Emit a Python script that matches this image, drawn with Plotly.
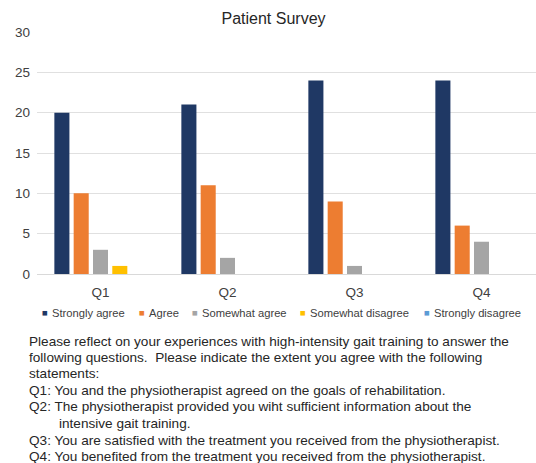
import plotly.graph_objects as go

categories = ["Q1", "Q2", "Q3", "Q4"]
series_names = ["Strongly agree", "Agree", "Somewhat agree", "Somewhat disagree", "Strongly disagree"]
strongly_agree = [20, 21, 24, 24]
agree = [10, 11, 9, 6]
somewhat_agree = [3, 2, 1, 4]
somewhat_disagree = [1, 0, 0, 0]
strongly_disagree = [0, 0, 0, 0]
series_values = [strongly_agree, agree, somewhat_agree, somewhat_disagree, strongly_disagree]
colors = ["#1f3864", "#ed7d31", "#a5a5a5", "#ffc000", "#5b9bd5"]
y_ticks = [0, 5, 10, 15, 20, 25, 30]

paragraph = [
    "Please reflect on your experiences with high-intensity gait training to answer the",
    "following questions.\u00a0 Please indicate the extent you agree with the following",
    "statements:",
    "Q1: You and the physiotherapist agreed on the goals of rehabilitation.",
    "Q2: The physiotherapist provided you wiht sufficient information about the",
    "intensive gait training.",
    "Q3: You are satisfied with the treatment you received from the physiotherapist.",
    "Q4: You benefited from the treatment you received from the physiotherapist.",
]

W, H = 536, 463
L, R, T, B = 37, 0, 32, 189
plot_h = H - T - B
plot_w = W - L - R
FONT = "Liberation Sans, Arial, sans-serif"

fig = go.Figure()
for name, vals, c in zip(series_names, series_values, colors):
    fig.add_trace(go.Bar(name=name, x=categories, y=vals, marker_color=c,
                         marker_line_width=0, showlegend=False))

def px_to_paper_y(p):
    return (H - B - p) / plot_h

def px_to_paper_x(p):
    return (p - L) / plot_w

annotations = []
# paragraph lines
line_y = [341.7, 357.5, 373.5, 390.5, 407, 423.5, 440.5, 456.8]
for i, (txt, yy) in enumerate(zip(paragraph, line_y)):
    xx = 57 if i == 5 else 26.5
    annotations.append(dict(text=txt, xref="paper", yref="paper",
                            x=px_to_paper_x(xx), y=px_to_paper_y(yy),
                            xanchor="left", yanchor="middle", showarrow=False,
                            font=dict(family=FONT, size=13.6, color="#262626")))
# custom legend (square glyph + label)
legend_x = [45, 141.7, 195, 302.7, 426.7]
for name, c, lx in zip(series_names, colors, legend_x):
    annotations.append(dict(
        text="■", xref="paper", yref="paper", x=px_to_paper_x(lx), y=px_to_paper_y(312.5),
        xanchor="center", yanchor="middle", showarrow=False,
        font=dict(family=FONT, size=9.5, color=c)))
    annotations.append(dict(
        text=name, xref="paper", yref="paper", x=px_to_paper_x(lx + 5), y=px_to_paper_y(313),
        xanchor="left", yanchor="middle", showarrow=False,
        font=dict(family=FONT, size=11.2, color="#404040")))

fig.update_layout(
    width=W, height=H,
    margin=dict(l=L, r=R, t=T, b=B, pad=0),
    paper_bgcolor="white", plot_bgcolor="white",
    barmode="group", bargap=0.24, bargroupgap=0.22,
    title=dict(text="Patient Survey", xref="container", yref="container",
               x=273.5 / W, y=1 - 18.5 / H, xanchor="center", yanchor="middle",
               font=dict(family=FONT, size=16, color="#262626")),
    annotations=annotations,
    font=dict(family=FONT),
)
fig.update_xaxes(range=[-0.5, -0.5 + plot_w / 127.0], showgrid=False,
                 showline=True, linecolor="#d9d9d9", linewidth=1,
                 tickfont=dict(family=FONT, size=13.5, color="#404040"),
                 ticks="", ticklabelstandoff=6, fixedrange=True)
fig.update_yaxes(range=[0, 30], tickvals=y_ticks, showgrid=True,
                 gridcolor="#e0e0e0", gridwidth=1, zeroline=False,
                 tickfont=dict(family=FONT, size=13.5, color="#404040"),
                 ticks="", ticklabelstandoff=6, fixedrange=True)

fig.write_html("out.html")
